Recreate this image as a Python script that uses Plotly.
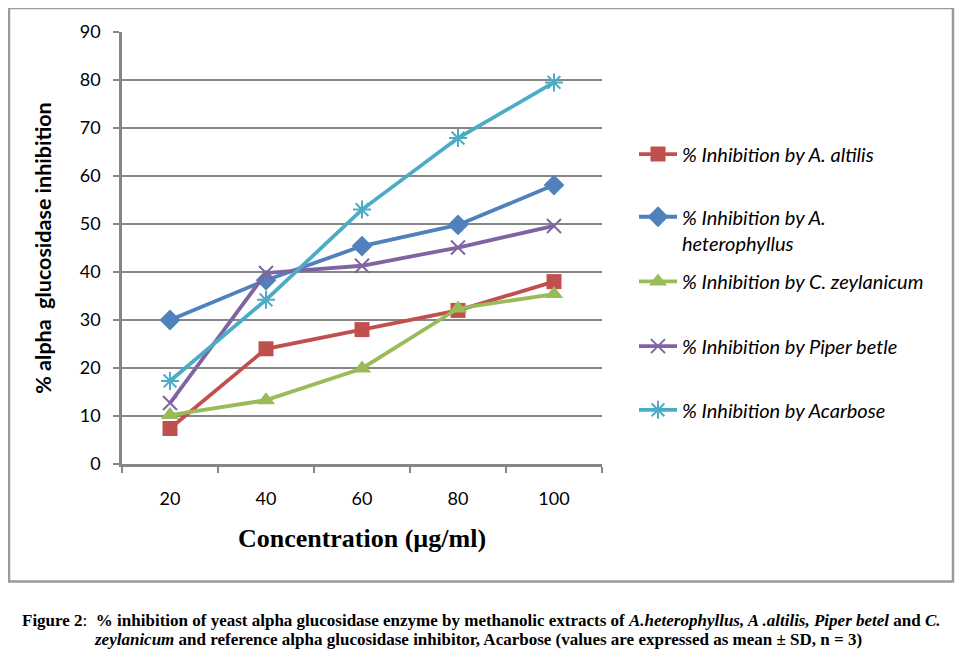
import plotly.graph_objects as go

concentration = ["20", "40", "60", "80", "100"]
altilis = [7.4, 24.0, 28.0, 32.0, 38.0]
heterophyllus = [30.0, 38.3, 45.4, 49.8, 58.1]
zeylanicum = [10.2, 13.3, 19.9, 32.4, 35.4]
piper_betle = [12.7, 39.8, 41.3, 45.1, 49.6]
acarbose = [17.3, 34.2, 53.0, 67.9, 79.5]

series_names = [
    "% Inhibition by A. altilis",
    "% Inhibition by A.<br>heterophyllus",
    "% Inhibition by C. zeylanicum",
    "% Inhibition by Piper betle",
    "% Inhibition by Acarbose",
]
series_values = [altilis, heterophyllus, zeylanicum, piper_betle, acarbose]
colors = ["#C0504D", "#4F81BD", "#9BBB59", "#8064A2", "#4BACC6"]
symbols = ["square", "diamond", "triangle-up", "x-thin", "asterisk"]
msizes = [15, 16, 16, 14, 15]
legend_ids = ["legend", "legend2", "legend3", "legend4", "legend5"]
legend_y_px = [153, 216, 281, 346, 410]

# the page has an 8px body margin: positions below are page pixels
OFF = 8
W, H = 964 - OFF, 660 - OFF
PL, PR, PT, PB = 122 - OFF, 602 - OFF, 30 - OFF, 464 - OFF

def px_x(px):
    return (px - OFF - PL) / (PR - PL)

def px_y(py):
    return (PB - (py - OFF)) / (PB - PT)

fig = go.Figure()
for name, vals, c, s, ms, lid in zip(series_names, series_values, colors, symbols, msizes, legend_ids):
    thin = s in ("x-thin", "asterisk")
    fig.add_trace(go.Scatter(
        x=concentration, y=vals, name=name, mode="lines+markers",
        line=dict(color=c, width=3.8),
        marker=dict(symbol=s, size=ms, color=c,
                    line=dict(color=c, width=2 if thin else 0)),
        legend=lid,
    ))

leg_font = dict(family="Lato", size=20, color="#000000", style="italic")
layout_legends = {}
for lid, ypx in zip(legend_ids, legend_y_px):
    layout_legends[lid] = dict(
        x=px_x(634), xanchor="left",
        y=px_y(ypx - 20), yanchor="top",
        font=leg_font, bgcolor="rgba(0,0,0,0)", valign="top",
        itemwidth=38,
    )

axis_gray = "#868686"
fig.update_layout(
    width=W, height=H,
    margin=dict(l=PL, r=W - PR, t=PT, b=H - PB),
    paper_bgcolor="white", plot_bgcolor="white",
    showlegend=True,
    font=dict(family="Lato", color="#000000"),
    xaxis=dict(
        type="category", range=[-0.5, 4.5], tickson="boundaries", ticks="outside", ticklen=6,
        tickwidth=2, tickcolor=axis_gray, showline=True, linecolor=axis_gray,
        linewidth=2.5, showgrid=False, tickfont=dict(family="Lato", size=18),
        ticklabelstandoff=17,
        title=dict(text="<b>Concentration (µg/ml)</b>",
                   font=dict(family="Liberation Serif", size=26), standoff=21),
    ),
    yaxis=dict(
        range=[0, 90], dtick=10, ticks="outside", ticklen=6, tickwidth=2,
        tickcolor=axis_gray, showline=True, linecolor=axis_gray, linewidth=2.5,
        showgrid=True, gridcolor=axis_gray, gridwidth=1.5, zeroline=False,
        tickfont=dict(family="Lato", size=18), ticklabelstandoff=9,
        title=dict(text="<b>% alpha  glucosidase inhibition</b>",
                   font=dict(family="Lato", size=21.5), standoff=23),
    ),
    **layout_legends,
)

# outer frame
fig.add_shape(type="rect", xref="paper", yref="paper",
              x0=px_x(9), x1=px_x(953), y0=px_y(582), y1=px_y(6),
              line=dict(color="#9a9a9a", width=2.5), layer="below")

cap_font = dict(family="Liberation Serif", size=17, color="#000000")
fig.add_annotation(
    xref="paper", yref="paper", x=px_x(20), y=px_y(621), xanchor="left", yanchor="middle",
    showarrow=False, font=cap_font,
    text="<b>Figure 2</b>:  <b>% inhibition of yeast alpha glucosidase enzyme by methanolic extracts of "
         "<i>A.heterophyllus, A .altilis, Piper betel</i> and <i>C.</i></b>",
)
fig.add_annotation(
    xref="paper", yref="paper", x=px_x(92), y=px_y(640), xanchor="left", yanchor="middle",
    showarrow=False, font=cap_font,
    text="<b><i>zeylanicum</i> and reference alpha glucosidase inhibitor, Acarbose (values are expressed as mean ± SD, n = 3)</b>",
)
fig.add_annotation(
    xref="paper", yref="paper", x=px_x(957), y=px_y(577), xanchor="center", yanchor="middle",
    showarrow=False, font=dict(family="Liberation Serif", size=12, color="#000000"), text=".",
)

fig.write_html("out.html")
